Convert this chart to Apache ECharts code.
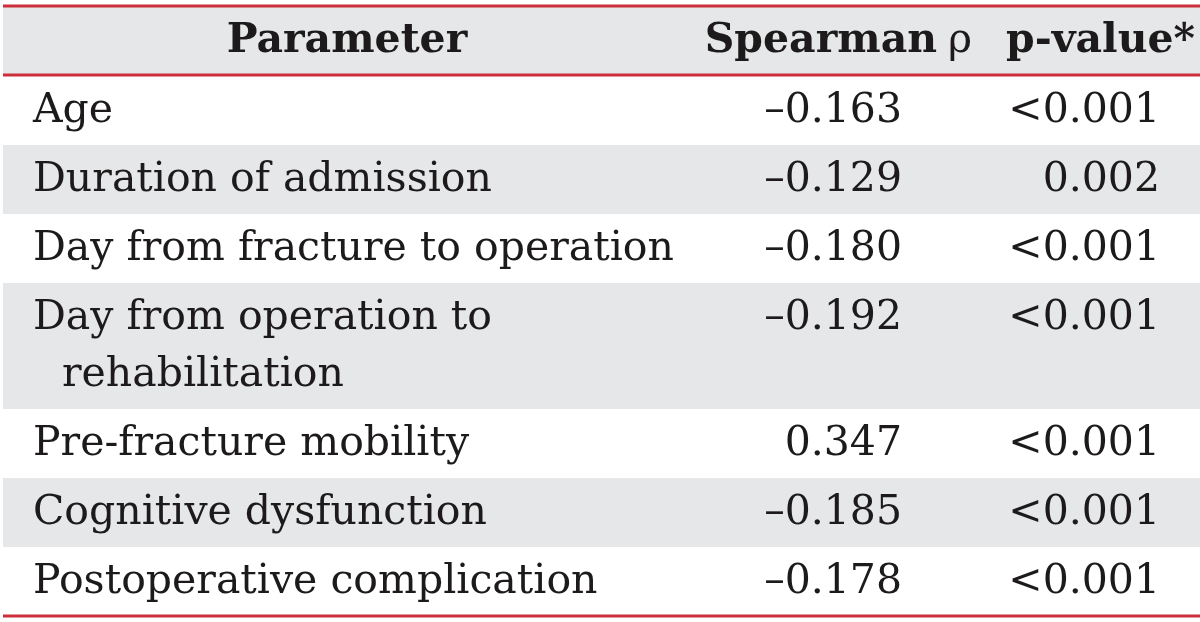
<!DOCTYPE html>
<html>
<head>
<meta charset="utf-8">
<script src="https://cdn.jsdelivr.net/npm/echarts@6/dist/echarts.min.js"></script>
<style>html,body{margin:0;padding:0;background:#fff}#chart{width:1200px;height:622px}</style>
</head>
<body>
<div id="chart"></div>
<script>
const headers = ['Parameter', 'Spearman', 'ρ', 'p-value*'];
const parameters = [
  ['Age'],
  ['Duration of admission'],
  ['Day from fracture to operation'],
  ['Day from operation to', 'rehabilitation'],
  ['Pre-fracture mobility'],
  ['Cognitive dysfunction'],
  ['Postoperative complication']
];
const spearmanRho = [-0.163, -0.129, -0.180, -0.192, 0.347, -0.185, -0.178];
const pValues = ['<0.001', '0.002', '<0.001', '<0.001', '<0.001', '<0.001', '<0.001'];

const FONT = '"DejaVu Serif", "Liberation Serif", serif';
const SIZE = 41;
const TEXT = '#1d1a1b';
const GRAY = '#e6e7e8';
const RED = '#cc2f3b';
const HEAD_TOP = 6, HEAD_BOT = 75, ROW_H = 69, LINE_H = 57;
const COL1_X = 33, INDENT_X = 62, COL2_R = 902, COL3_R = 1160;

function fmt(v) { return (v < 0 ? '\u2013' : '') + Math.abs(v).toFixed(3); }

const rowTops = [];
let y = HEAD_BOT + 1;
parameters.forEach(function (p) { rowTops.push(y); y += ROW_H + (p.length - 1) * LINE_H; });
const tableBottom = y;

const data = parameters.map(function (p, i) { return [i]; });

function txt(x, y, s, align, weight) {
  return { type: 'text', style: { text: s, x: x, y: y, fill: TEXT, font: (weight || 'normal') + ' ' + SIZE + 'px ' + FONT,
    align: align, verticalAlign: 'middle', textAlign: align, textVerticalAlign: 'middle' } };
}

const chart = echarts.init(document.getElementById('chart'), null, { renderer: 'canvas' });
chart.setOption({
  animation: false,
  grid: { left: 0, right: 0, top: 0, bottom: 0 },
  xAxis: { type: 'value', min: 0, max: 1200, show: false },
  yAxis: { type: 'value', min: 0, max: 622, inverse: true, show: false },
  series: [
    {
      type: 'custom',
      coordinateSystem: 'cartesian2d',
      data: [[0]],
      renderItem: function (params, api) {
        const tl = api.coord([3, HEAD_TOP]);
        const br = api.coord([1200, HEAD_BOT]);
        const cy = api.coord([0, (HEAD_TOP + HEAD_BOT) / 2 + 1])[1];
        const bot = api.coord([0, tableBottom])[1];
        const children = [
          { type: 'rect', shape: { x: tl[0], y: tl[1], width: br[0] - tl[0], height: br[1] - tl[1] }, style: { fill: GRAY } },
          { type: 'line', shape: { x1: tl[0], y1: tl[1], x2: br[0], y2: tl[1] }, style: { stroke: RED, lineWidth: 3 } },
          { type: 'line', shape: { x1: tl[0], y1: br[1], x2: br[0], y2: br[1] }, style: { stroke: RED, lineWidth: 3 } },
          { type: 'line', shape: { x1: tl[0], y1: bot, x2: br[0], y2: bot }, style: { stroke: RED, lineWidth: 3 } },
          txt(api.coord([347, 0])[0], cy, headers[0], 'center', 'bold'),
          txt(api.coord([937, 0])[0], cy, headers[1], 'right', 'bold'),
          txt(api.coord([948, 0])[0], cy, headers[2], 'left', 'normal'),
          txt(api.coord([1195, 0])[0], cy, headers[3], 'right', 'bold')
        ];
        return { type: 'group', children: children };
      },
      z: 2
    },
    {
      type: 'custom',
      coordinateSystem: 'cartesian2d',
      data: data,
      renderItem: function (params, api) {
        const i = api.value(0);
        const lines = parameters[i];
        const top = rowTops[i];
        const h = ROW_H + (lines.length - 1) * LINE_H;
        const tl = api.coord([3, top]);
        const br = api.coord([1200, top + h]);
        const children = [];
        if (i % 2 === 1) {
          children.push({ type: 'rect', shape: { x: tl[0], y: tl[1], width: br[0] - tl[0], height: br[1] - tl[1] }, style: { fill: GRAY } });
        }
        const firstY = api.coord([0, top + ROW_H / 2 + 1])[1];
        lines.forEach(function (s, k) {
          const yy = api.coord([0, top + ROW_H / 2 + 1 + k * LINE_H])[1];
          children.push(txt(api.coord([k === 0 ? COL1_X : INDENT_X, 0])[0], yy, s, 'left'));
        });
        children.push(txt(api.coord([COL2_R, 0])[0], firstY, fmt(spearmanRho[i]), 'right'));
        children.push(txt(api.coord([COL3_R, 0])[0], firstY, pValues[i], 'right'));
        return { type: 'group', children: children };
      },
      z: 1
    }
  ]
});
</script>
</body>
</html>
